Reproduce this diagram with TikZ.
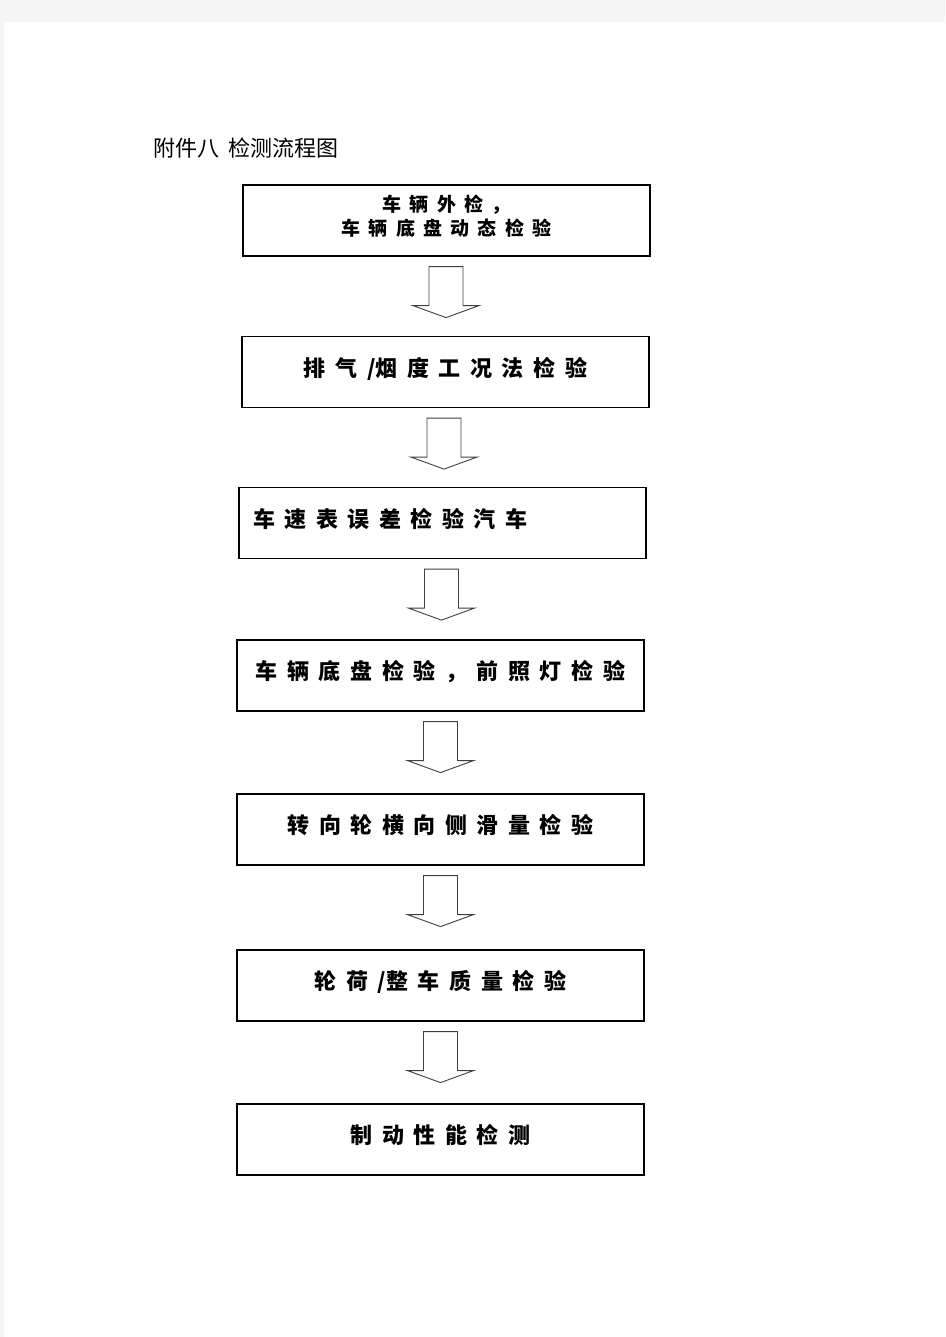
\documentclass[tikz,border=0pt]{standalone}
\usepackage{fontspec}
\usepackage{tikz}
\usetikzlibrary{calc}
\setmainfont{Noto Sans CJK SC}
\newfontfamily\boxfont[WordSpace=1.9]{Noto Sans CJK SC}

% hollow block arrow between two boxes
\newcommand{\blockarrow}[2]{
	\coordinate (m) at ($(#1.south)!0.5!(#2.north)$);
	\draw[arrowline] (m |- #1.south) ++(-17,10) -- ++(34,0) -- ++(0,39) -- ++(16,0) -- ++(-33,12) -- ++(-33,-12) -- ++(16,0) -- cycle;
}

\begin{document}
\begin{tikzpicture}[x=1pt, y=-1pt,
	stepbox/.style={draw, line width=1.2pt, minimum width=407pt, minimum height=71pt, align=center, text height=16pt, text depth=7.2pt, font=\boxfont\bfseries\fontsize{22pt}{26pt}\selectfont},
	arrowline/.style={draw=black!75, line width=0.9pt, fill=white}]
	\useasboundingbox (0,0) rectangle (945,1337);
	\fill[black!4] (0,0) rectangle (945,1337);
	\fill[white] (4,22) rectangle (945,1337);

	\node[anchor=west, font=\fontsize{22pt}{26pt}\selectfont] at (150,148) (title) {附件八\hspace{9pt}检测流程图};

	\node[stepbox, text height=36pt, text depth=5.8pt, font=\boxfont\bfseries\fontsize{19pt}{24pt}\selectfont] at (446.5,220.5) (s1) {车 辆 外 检 ，\\车 辆 底 盘 动 态 检 验};
	\node[stepbox] at (445.5,372) (s2) {排 气 /烟 度 工 况 法 检 验};
	\node[stepbox] at (442.5,523) (s3) {\makebox[379pt][l]{车 速 表 误 差 检 验 汽 车}};
	\node[stepbox] at (440.5,675.5) (s4) {车 辆 底 盘 检 验 ， 前 照 灯 检 验};
	\node[stepbox] at (440.5,829.5) (s5) {转 向 轮 横 向 侧 滑 量 检 验};
	\node[stepbox] at (440.5,985.5) (s6) {轮 荷 /整 车 质 量 检 验};
	\node[stepbox] at (440.5,1139.5) (s7) {制 动 性 能 检 测};

	\blockarrow{s1}{s2}
	\blockarrow{s2}{s3}
	\blockarrow{s3}{s4}
	\blockarrow{s4}{s5}
	\blockarrow{s5}{s6}
	\blockarrow{s6}{s7}
\end{tikzpicture}
\end{document}
